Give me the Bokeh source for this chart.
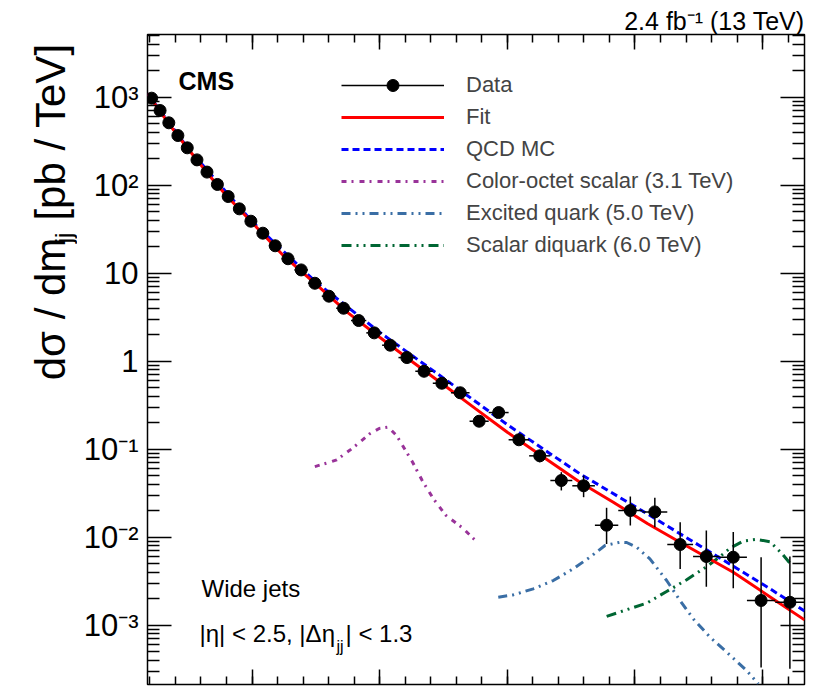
import numpy as np
from bokeh.plotting import figure
from bokeh.layouts import row
from bokeh.models import (Range1d, LinearAxis, LogAxis, FixedTicker, Label, Title,
                          Legend, LegendItem, ColumnDataSource)
from bokeh.embed import file_html
from bokeh.resources import INLINE

# ---- data -----------------------------------------------------------------
# dijet mass bin edges [TeV]
bin_edges = [1.181, 1.246, 1.313, 1.383, 1.455, 1.530, 1.607, 1.687, 1.770, 1.856,
             1.945, 2.037, 2.132, 2.231, 2.332, 2.438, 2.546, 2.659, 2.775, 2.895,
             3.019, 3.147, 3.279, 3.416, 3.558, 3.704, 3.854, 4.010, 4.171, 4.337,
             4.509, 4.686, 4.869, 5.058, 5.253, 5.455, 5.663, 5.877, 6.099, 6.328]
# measured dsigma/dm [pb/TeV]
xsec = [975, 706, 512, 367, 266, 194, 141, 102, 74.4, 53.9,
        39.0, 28.5, 20.5, 14.6, 10.9, 7.69, 5.48, 4.00, 2.90, 2.10,
        1.52, 1.10, 0.769, 0.562, 0.438, 0.208, 0.261, 0.128, 0.0841, 0.0441,
        0.0384, 0.0137, 0.0201, 0.0194, 0.00826, 0.00604, 0.00593, 0.00191, 0.00182]
err_dn = [0, 0, 0, 0, 0, 0, 0, 0, 0, 0,
          0, 0, 0, 0, 0, 0, 0, 0, 0, 0,
          0, 0, 0.02, 0.02, 0.02, 0.015, 0.018, 0.012, 0.013, 0.0101,
          0.0099, 0.0053, 0.0065, 0.0064, 0.0039, 0.0033, 0.0033, 0.00158, 0.0015]
err_up = [0, 0, 0, 0, 0, 0, 0, 0, 0, 0,
          0, 0, 0, 0, 0, 0, 0, 0, 0, 0,
          0, 0, 0.02, 0.02, 0.02, 0.015, 0.018, 0.012, 0.0125, 0.0107,
          0.0118, 0.0079, 0.0089, 0.0087, 0.0065, 0.0059, 0.0055, 0.0040, 0.0042]

# background fit
fit_mass = [1.181, 1.3, 1.4, 1.5, 1.65, 1.8, 2.0, 2.25, 2.5, 2.75, 3.0, 3.25,
            3.5, 3.75, 4.0, 4.25, 4.569, 4.83, 5.1, 5.353, 5.77, 6.05, 6.328]
fit_xsec = [1100, 627, 395, 258, 137, 75.9, 37.7, 15.6, 7.5, 3.57, 1.87, 1.00,
            0.54, 0.289, 0.156, 0.0879, 0.0422, 0.0250, 0.01422, 0.00877, 0.00400,
            0.00214, 0.00115]

# QCD prediction
qcd_mass = [1.181, 1.5, 2.0, 2.5, 3.0, 3.5, 4.0, 4.569, 5.1, 5.614, 6.05, 6.328]
qcd_xsec = [1100, 261, 38.7, 7.94, 2.13, 0.642, 0.190, 0.0525, 0.0183, 0.00644,
            0.00264, 0.00145]

# signal shapes
cos_mass = [2.492, 2.584, 2.664, 2.792, 2.923, 2.996, 3.067, 3.132, 3.172, 3.258,
            3.333, 3.421, 3.519, 3.650, 3.772]
cos_xsec = [0.0635, 0.0694, 0.0758, 0.104, 0.150, 0.172, 0.178, 0.143, 0.115,
            0.0711, 0.0441, 0.0273, 0.0177, 0.0127, 0.00855]

qstar_mass = [3.929, 4.046, 4.203, 4.360, 4.516, 4.647, 4.765, 4.883, 4.935, 5.013,
              5.117, 5.248, 5.353, 5.457, 5.588, 5.719, 5.875, 5.966]
qstar_xsec = [0.00208, 0.00221, 0.00259, 0.00322, 0.00437, 0.00593, 0.00805,
              0.00878, 0.00871, 0.00769, 0.00568, 0.00322, 0.00191, 0.00118,
              0.000731, 0.000494, 0.000305, 0.000216]

dq_mass = [4.778, 4.935, 5.092, 5.248, 5.405, 5.562, 5.666, 5.745, 5.849, 5.954,
           6.058, 6.150, 6.215]
dq_xsec = [0.00126, 0.00150, 0.00178, 0.00242, 0.00328, 0.00464, 0.00603, 0.00750,
           0.00906, 0.00945, 0.00889, 0.00655, 0.00505]

y_ticks = [1e-3, 1e-2, 1e-1, 1.0, 10.0, 100.0, 1000.0]
y_tick_labels = ["10\u207b\u00b3", "10\u207b\u00b2", "10\u207b\u00b9", "1", "10",
                 "10\u00b2", "10\u00b3"]
x_major = [2.0, 3.0, 4.0, 5.0, 6.0]

# ---- layout constants -----------------------------------------------------
FONT = "Liberation Sans"
W, H = 821, 688
STRIP_W = 77                 # strip on the left holding the y-axis title
FRAME_LEFT, FRAME_BOTTOM = 147, 684
MAIN_W = W - STRIP_W

p = figure(width=MAIN_W, height=H, x_range=Range1d(1.181, 6.328),
           y_range=Range1d(2.12e-4, 5.16e3), y_axis_type="log",
           x_axis_location=None, y_axis_location=None,
           output_backend="svg", toolbar_location=None,
           min_border_left=FRAME_LEFT - STRIP_W, min_border_right=W - FRAME_LEFT - 657,
           min_border_top=34, min_border_bottom=H - FRAME_BOTTOM)
p.background_fill_color = "white"
p.border_fill_color = "white"
p.outline_line_color = "black"
p.outline_line_width = 1.5
p.grid.grid_line_color = None

y_minor = [k * 10.0 ** e for e in range(-4, 4) for k in range(2, 10)]
x_minor = [round(1.2 + 0.2 * i, 2) for i in range(26)]


def style_ticks(ax, major, minor):
    ax.axis_line_color = None
    ax.major_tick_in, ax.major_tick_out = major, 0
    ax.minor_tick_in, ax.minor_tick_out = minor, 0
    ax.major_tick_line_width = 1.5
    ax.minor_tick_line_width = 1.5
    ax.major_label_text_font = FONT
    ax.major_label_text_color = "black"


def hide_labels(ax, ticks):
    # mirrored axes carry tick marks only
    ax.major_label_overrides = {t: "" for t in ticks}
    ax.major_label_text_font_size = "1px"
    ax.major_label_standoff = 0


left = LogAxis(ticker=FixedTicker(ticks=y_ticks, minor_ticks=y_minor))
style_ticks(left, 24, 12)
left.major_label_overrides = dict(zip(y_ticks, y_tick_labels))
left.major_label_text_font_size = "31px"
left.major_label_standoff = 9

right = LogAxis(ticker=FixedTicker(ticks=y_ticks, minor_ticks=y_minor))
style_ticks(right, 24, 12)
hide_labels(right, y_ticks)

top = LinearAxis(ticker=FixedTicker(ticks=x_major, minor_ticks=x_minor))
style_ticks(top, 15, 8)
hide_labels(top, x_major)

bottom = LinearAxis(ticker=FixedTicker(ticks=x_major, minor_ticks=x_minor))
style_ticks(bottom, 15, 8)
hide_labels(bottom, x_major)

p.add_layout(left, "left")
p.add_layout(right, "right")
p.add_layout(top, "above")
p.add_layout(bottom, "below")

# luminosity / energy caption above the frame, right aligned
p.add_layout(Title(text="2.4 fb\u207b\u00b9 (13 TeV)", align="right",
                   text_font=FONT, text_font_size="25px", text_font_style="normal",
                   text_color="black", standoff=0), "above")

# ---- curves ---------------------------------------------------------------
LW = 3
COS_DASH, QS_DASH, DQ_DASH, QCD_DASH = "5 5 2 6", "9 5 2 5 2 5", "10 5 2 5 2 5", "7 4"
r_cos = p.line(cos_mass, cos_xsec, line_color="#993399", line_width=LW,
               line_dash=COS_DASH)
r_qs = p.line(qstar_mass, qstar_xsec, line_color="#3a6ea5", line_width=LW,
              line_dash=QS_DASH)
r_dq = p.line(dq_mass, dq_xsec, line_color="#006633", line_width=LW,
              line_dash=DQ_DASH)
r_qcd = p.line(qcd_mass, qcd_xsec, line_color="#0000ff", line_width=LW,
               line_dash=QCD_DASH)
r_fit = p.line(fit_mass, fit_xsec, line_color="#ff0000", line_width=LW)

# ---- data points with error bars -------------------------------------------
centers = [(a + b) / 2 for a, b in zip(bin_edges[:-1], bin_edges[1:])]
src = ColumnDataSource(dict(
    m=centers, m_lo=bin_edges[:-1], m_hi=bin_edges[1:], y=xsec,
    y_lo=[v - d for v, d in zip(xsec, err_dn)],
    y_hi=[v + u for v, u in zip(xsec, err_up)]))
p.segment(x0="m", y0="y_lo", x1="m", y1="y_hi", source=src,
          line_color="black", line_width=1.5)
r_hbar = p.segment(x0="m_lo", y0="y", x1="m_hi", y1="y", source=src,
                   line_color="black", line_width=1.5)
r_dot = p.scatter("m", "y", source=src, size=12, color="black")
# vertical tick used only for the legend entry of the data
r_vbar = p.scatter(x=[np.nan], y=[np.nan], marker="dash", angle=np.pi / 2, size=18,
                   line_color="black", line_width=1.5)

# ---- legend ---------------------------------------------------------------
legend = Legend(items=[
    LegendItem(label="Data", renderers=[r_hbar, r_vbar, r_dot]),
    LegendItem(label="Fit", renderers=[r_fit]),
    LegendItem(label="QCD MC", renderers=[r_qcd]),
    LegendItem(label="Color-octet scalar (3.1 TeV)", renderers=[r_cos]),
    LegendItem(label="Excited quark (5.0 TeV)", renderers=[r_qs]),
    LegendItem(label="Scalar diquark (6.0 TeV)", renderers=[r_dq]),
], location=(194, 424), glyph_width=103, glyph_height=30, label_height=20,
    label_standoff=22, spacing=2, padding=0, margin=0,
    border_line_color=None, background_fill_alpha=0,
    label_text_font=FONT, label_text_font_size="22px")
p.add_layout(legend)


# ---- text inside the frame ---------------------------------------------------
def note(text, cx, cy, size, **kw):
    """Place text by its canvas position (cx from left, cy = baseline from top)."""
    return Label(x=cx - FRAME_LEFT, y=FRAME_BOTTOM - cy, x_units="screen",
                 y_units="screen", text=text, text_font=FONT,
                 text_font_size=f"{size}px", text_color="black",
                 text_baseline="alphabetic", **kw)


p.add_layout(note("CMS", 178, 80, 25, text_font_style="bold"))
p.add_layout(note("Wide jets", 201, 588, 24))
p.add_layout(note("|\u03b7| < 2.5, |\u0394\u03b7", 199, 633, 24))
p.add_layout(note("jj", 336, 646, 16))
p.add_layout(note("| < 1.3", 345, 633, 24))

# ---- left strip with the rotated y-axis title -------------------------------
strip = figure(width=STRIP_W, height=H, x_range=Range1d(0, STRIP_W),
               y_range=Range1d(0, H), x_axis_location=None, y_axis_location=None,
               output_backend="svg", toolbar_location=None, min_border=0)
strip.outline_line_color = None
strip.grid.grid_line_color = None
strip.background_fill_color = "white"
strip.border_fill_color = "white"


def title_part(text, cx, cy, size):
    return Label(x=cx, y=H - cy, text=text, text_font=FONT,
                 text_font_size=f"{size}px", text_color="black",
                 text_baseline="alphabetic", angle=np.pi / 2)


strip.add_layout(title_part("d\u03c3 / dm", 50, 366, 42))
strip.add_layout(title_part("jj", 63, 221, 24))
strip.add_layout(title_part("[pb / TeV]", 50, 197, 42))

layout = row(strip, p, spacing=0)
open("out.html", "w").write(file_html(layout, INLINE))
